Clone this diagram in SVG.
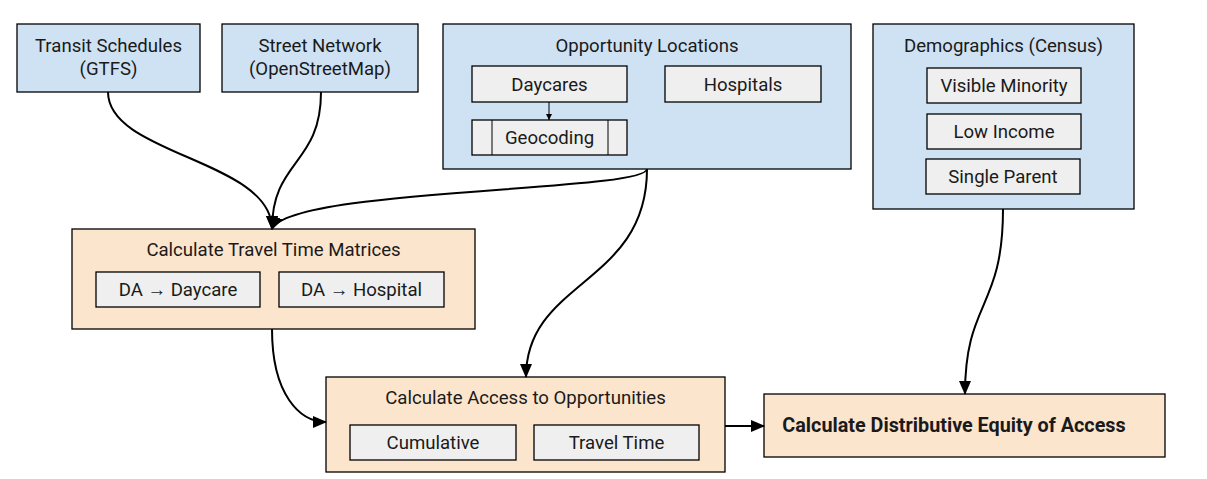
<svg xmlns="http://www.w3.org/2000/svg" width="1207" height="479" viewBox="0 0 1207 479">
<style>
text{font-family:Roboto,"Liberation Sans",sans-serif;font-size:18.6px;fill:#1a1a1a;text-anchor:middle}
.b{fill:#cfe2f3;stroke:#000;stroke-width:1.3}
.o{fill:#fce5cd;stroke:#000;stroke-width:1.3}
.g{fill:#efefef;stroke:#000;stroke-width:1.3}
.c{fill:none;stroke:#000;stroke-width:2}
.s{fill:none;stroke:#000;stroke-width:1}
.bold{font-weight:bold;font-size:19.8px}
</style>
<defs>
<marker id="ah" markerUnits="userSpaceOnUse" markerWidth="14" markerHeight="12" refX="13" refY="6" orient="auto"><path d="M0,0 L14,6 L0,12 Z" fill="#000"/></marker>
<marker id="sa" markerUnits="userSpaceOnUse" markerWidth="6" markerHeight="6" refX="6" refY="3" orient="auto"><path d="M0,0 L6,3 L0,6 Z" fill="#000"/></marker>
</defs>
<rect width="1207" height="479" fill="#fff"/>
<g id="transit"><rect class="b" x="17" y="24" width="183" height="68"/><text x="108.5" y="52">Transit Schedules</text><text x="108.5" y="75">(GTFS)</text></g>
<g id="street"><rect class="b" x="222" y="24" width="196" height="68"/><text x="320" y="52">Street Network</text><text x="320" y="75">(OpenStreetMap)</text></g>
<g id="opportunity"><rect class="b" x="443" y="24" width="408" height="145"/><text x="647" y="52">Opportunity Locations</text>
<g id="daycares"><rect class="g" x="472" y="66" width="155" height="36"/><text x="549.5" y="91">Daycares</text></g>
<g id="hospitals"><rect class="g" x="665" y="66" width="156" height="36"/><text x="743" y="91">Hospitals</text></g>
<g id="geocoding"><rect class="g" x="472" y="120" width="155" height="35"/><line class="s" x1="492" y1="120" x2="492" y2="155" stroke-width="1.3"/><line class="s" x1="608" y1="120" x2="608" y2="155" stroke-width="1.3"/><text x="549.5" y="144">Geocoding</text></g>
</g>
<g id="demographics"><rect class="b" x="873" y="24" width="261" height="185"/><text x="1003.5" y="52">Demographics (Census)</text>
<g id="visible"><rect class="g" x="927" y="68" width="154" height="35"/><text x="1004" y="92">Visible Minority</text></g>
<g id="lowincome"><rect class="g" x="927" y="114" width="154" height="35"/><text x="1004" y="138">Low Income</text></g>
<g id="single"><rect class="g" x="926" y="159" width="154" height="35"/><text x="1003" y="183">Single Parent</text></g>
</g>
<g id="ttm"><rect class="o" x="72" y="229" width="403" height="100"/><text x="273.5" y="256">Calculate Travel Time Matrices</text>
<g id="dadaycare"><rect class="g" x="96" y="272" width="164" height="35"/><text x="178" y="296">DA → Daycare</text></g>
<g id="dahospital"><rect class="g" x="279" y="272" width="165" height="35"/><text x="361.5" y="296">DA → Hospital</text></g>
</g>
<g id="access"><rect class="o" x="326" y="377" width="399" height="95"/><text x="525.5" y="404">Calculate Access to Opportunities</text>
<g id="cumulative"><rect class="g" x="350" y="425" width="166" height="35"/><text x="433" y="449">Cumulative</text></g>
<g id="traveltime"><rect class="g" x="534" y="425" width="165" height="35"/><text x="616.5" y="449">Travel Time</text></g>
</g>
<g id="equity"><rect class="o" x="764" y="394" width="401" height="63"/><text class="bold" x="954" y="432">Calculate Distributive Equity of Access</text></g>
<g id="connectors">
<path class="s" d="M549,102 L549,120" marker-end="url(#sa)"/>
<path class="c" d="M108,92 C108,155 272,160 272,229" marker-end="url(#ah)"/>
<path class="c" d="M321,92 C321,165 272,160 272,229" marker-end="url(#ah)"/>
<path class="c" d="M647,169 C645,192 290,188 272,229" marker-end="url(#ah)"/>
<path class="c" d="M647,169 C647,285 526,280 526,377" marker-end="url(#ah)"/>
<path class="c" d="M272,329 C272,395 300,422 326,422" marker-end="url(#ah)"/>
<path class="c" d="M725,426 L764,426" marker-end="url(#ah)"/>
<path class="c" d="M1003,209 C1003,310 965,300 965,394" marker-end="url(#ah)"/>
</g>
</svg>
